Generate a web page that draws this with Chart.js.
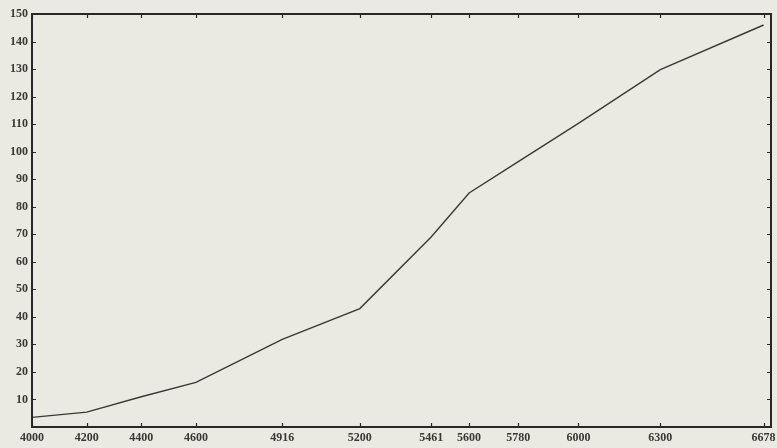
<!DOCTYPE html>
<html>
<head>
<meta charset="utf-8">
<script src="https://cdn.jsdelivr.net/npm/chart.js@4.4.1/dist/chart.umd.min.js"></script>
<style>
  html, body { margin: 0; padding: 0; background: #ebeae2; }
  #wrap { width: 777px; height: 448px; }
</style>
</head>
<body>
<div id="wrap"><canvas id="c" width="777" height="448"></canvas></div>
<script>
// Data
const wavelengths = [4000, 4200, 4400, 4600, 4916, 5200, 5461, 5600, 5780, 6000, 6300, 6678];
const values      = [3.5,  5.4,  11.0, 16.2, 31.8, 43.0, 69.0, 85.0, 96.4, 110.3, 129.8, 146.0];
const xTickValues = [4000, 4200, 4400, 4600, 4916, 5200, 5461, 5600, 5780, 6000, 6300, 6678];
const yTickValues = [10, 20, 30, 40, 50, 60, 70, 80, 90, 100, 110, 120, 130, 140, 150];

const points = wavelengths.map((w, i) => ({ x: w, y: values[i] }));

const frame = {
  id: 'frame',
  afterDatasetsDraw(chart) {
    const { ctx, chartArea: a, scales: { x, y } } = chart;
    ctx.save();
    ctx.strokeStyle = '#2a2826';
    ctx.lineWidth = 2;
    ctx.strokeRect(a.left, a.top, a.right - a.left, a.bottom - a.top);
    ctx.lineWidth = 1.2;
    ctx.beginPath();
    xTickValues.forEach(v => {
      const px = Math.round(x.getPixelForValue(v)) + 0.5;
      ctx.moveTo(px, a.bottom); ctx.lineTo(px, a.bottom - 4);
      ctx.moveTo(px, a.top); ctx.lineTo(px, a.top + 4);
    });
    yTickValues.forEach(v => {
      const py = Math.round(y.getPixelForValue(v)) + 0.5;
      ctx.moveTo(a.left, py); ctx.lineTo(a.left + 4, py);
      ctx.moveTo(a.right, py); ctx.lineTo(a.right - 4, py);
    });
    ctx.stroke();
    ctx.restore();
  }
};

const font = { family: '"Liberation Serif", "DejaVu Serif", serif', size: 12, weight: 'bold' };

new Chart(document.getElementById('c'), {
  type: 'line',
  data: {
    datasets: [{
      data: points,
      borderColor: '#3a3836',
      borderWidth: 1.4,
      pointRadius: 0,
      tension: 0,
      fill: false
    }]
  },
  options: {
    responsive: false,
    animation: false,
    events: [],
    layout: { padding: { top: 14, right: 6, left: 0, bottom: 0 } },
    plugins: { legend: { display: false }, tooltip: { enabled: false } },
    scales: {
      x: {
        type: 'linear',
        min: 4000,
        max: 6705,
        afterBuildTicks(scale) { scale.ticks = xTickValues.map(v => ({ value: v })); },
        afterFit(scale) { scale.height = 21; scale.paddingLeft = 0; scale.paddingRight = 0; },
        grid: { display: false, drawTicks: false },
        border: { display: false },
        ticks: {
          autoSkip: false,
          maxRotation: 0,
          padding: 4,
          color: '#3a3735',
          font: font,
          callback: v => String(v)
        }
      },
      y: {
        type: 'linear',
        min: 0,
        max: 150,
        afterBuildTicks(scale) { scale.ticks = yTickValues.map(v => ({ value: v })); },
        afterFit(scale) { scale.width = 32; scale.paddingTop = 0; scale.paddingBottom = 0; },
        grid: { display: false, drawTicks: false },
        border: { display: false },
        ticks: {
          autoSkip: false,
          padding: 4,
          color: '#3a3735',
          font: font,
          callback: v => String(v)
        }
      }
    }
  },
  plugins: [frame]
});
</script>
</body>
</html>
